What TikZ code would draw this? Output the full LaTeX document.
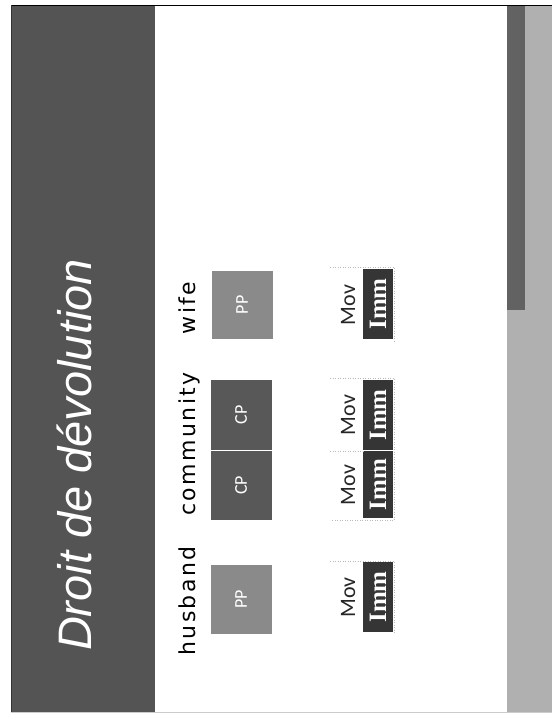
\documentclass[tikz,border=0pt]{standalone}
\usepackage{fontspec}
\setmainfont{Liberation Sans}
\newfontfamily\titlefont{Liberation Sans}
\newfontfamily\labfont[LetterSpace=11]{DejaVu Sans}
\newfontfamily\calfont{Carlito}
\newfontfamily\immfont{Liberation Serif}
\definecolor{band}{HTML}{545454}
\definecolor{ppcol}{HTML}{8A8A8A}
\definecolor{cpcol}{HTML}{585858}
\definecolor{immcol}{HTML}{353535}
\definecolor{strip}{HTML}{626262}
\definecolor{lightside}{HTML}{B0B0B0}
\begin{document}
\begin{tikzpicture}[x=1pt,y=-1pt,
  titlestyle/.style={rotate=90,anchor=base,inner sep=0pt,text=white,
    font=\titlefont\itshape\fontsize{47}{50}\selectfont},
  collab/.style={rotate=90,anchor=base,inner sep=0pt,text=black,
    font=\labfont\fontsize{22}{24}\selectfont},
  bigbox/.style={rotate=90,inner sep=0pt,minimum height=61pt,text=white,
    font=\calfont\fontsize{18}{20}\selectfont},
  immbox/.style={rotate=90,inner sep=0pt,minimum height=30pt,fill=immcol,
    text=white,font=\immfont\bfseries\fontsize{25}{27}\selectfont},
  movlab/.style={rotate=90,anchor=base,inner sep=0pt,text=black!85,
    font=\calfont\fontsize{22}{24}\selectfont},
  cellline/.style={gray!55,dotted,line width=0.5pt}]
\useasboundingbox (0,0) rectangle (552,718);
% page frame
\fill[white] (0,0) rectangle (552,718);
\fill[lightside] (11,5) rectangle (552,712);
\fill[band] (11,5) rectangle (155,712);
\fill[white] (155,6) rectangle (507,712);
\fill[strip] (507,5) rectangle (525,310);
\draw[black,line width=0.8pt] (11,5) -- (552,5);
\draw[black!80,line width=0.8pt] (11,5) -- (11,712);
\draw[gray!40,line width=0.8pt] (11,712) -- (552,712);
% title
\node[titlestyle] (title) at (91,455) {Droit de dévolution};
% column labels
\node[collab] (hlab) at (195,601) {husband};
\node[collab] (clab) at (195,444) {community};
\node[collab] (wlab) at (195,308) {wife};
% first row boxes
\node[bigbox,fill=ppcol,minimum width=69pt] (hpp) at (241,599.5) {PP};
\node[bigbox,fill=cpcol,minimum width=70pt] (cp1) at (241,415) {CP};
\node[bigbox,fill=cpcol,minimum width=69pt] (cp2) at (241,485.5) {CP};
\node[bigbox,fill=ppcol,minimum width=68pt] (wpp) at (242,305) {PP};
% second row
\node[immbox,minimum width=70pt] (himm) at (378,597) {Imm};
\node[immbox,minimum width=70pt] (cimm1) at (378,415) {Imm};
\node[immbox,minimum width=67pt] (cimm2) at (378,484.5) {Imm};
\node[immbox,minimum width=70pt] (wimm) at (378,304) {Imm};
\node[movlab] (hmov) at (355,597.5) {Mov};
\node[movlab] (cmov1) at (355,415) {Mov};
\node[movlab] (cmov2) at (355,485) {Mov};
\node[movlab] (wmov) at (355,305) {Mov};
% faint cell outlines
\draw[cellline] (330,267) -- (394,267) -- (394,341);
\draw[cellline] (330,378) -- (394,378) -- (394,520) -- (330,520);
\draw[cellline] (330,451) -- (363,451);
\draw[cellline] (330,561) -- (394,561) -- (394,634);
\end{tikzpicture}
\end{document}
